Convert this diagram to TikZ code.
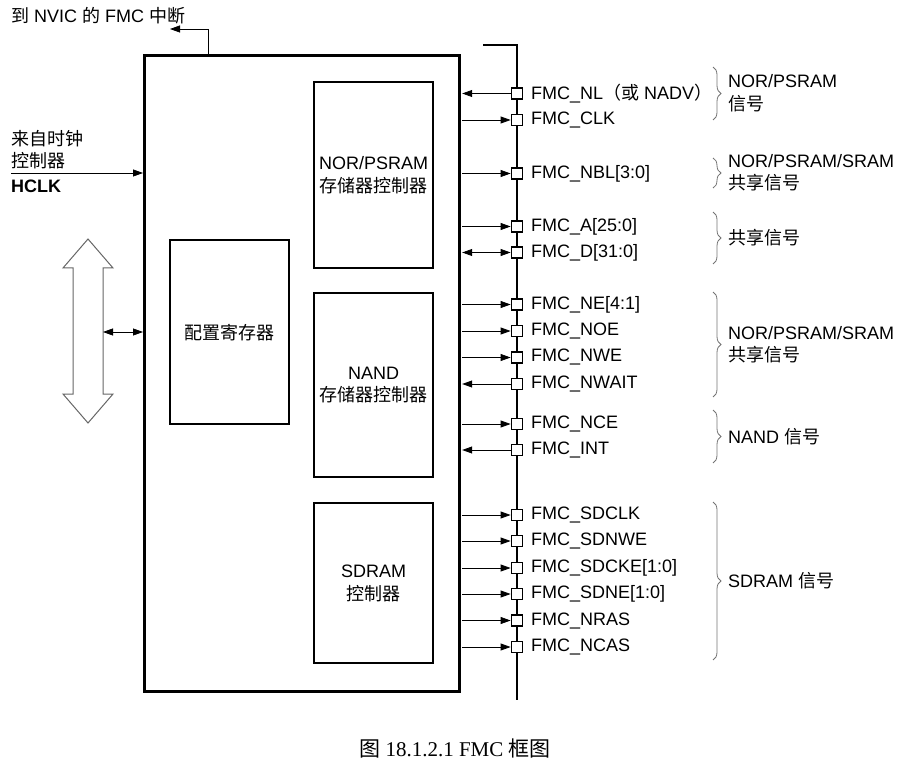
\documentclass[tikz,border=0pt]{standalone}
\usepackage{fontspec}
\setmainfont{Liberation Sans}
\newfontfamily\cjk{Noto Sans CJK SC}
\newfontfamily\capserif{Liberation Serif}
\usetikzlibrary{arrows.meta,decorations.pathreplacing,calc}
\begin{document}
\begin{tikzpicture}[x=1pt,y=-1pt,
  txt/.style={font=\fontsize{18}{22.5}\selectfont, inner sep=0pt},
  lbl/.style={txt, anchor=west},
  blk/.style={draw, line width=2.4pt, minimum width=119pt, inner sep=0pt, align=center, txt},
  pin/.style={draw, line width=1.8pt, fill=white, minimum size=11pt, inner sep=0pt},
  sig/.style={line width=0.8pt, -{Triangle[length=10pt,width=7pt]}},
  bsig/.style={line width=0.8pt, {Triangle[length=10pt,width=7pt]}-{Triangle[length=10pt,width=7pt]}},
  brc/.style={draw=black!55, line width=0.8pt, decorate, decoration={brace, amplitude=8pt}},
]
\useasboundingbox (0,0) rectangle (918,767);

% main FMC box
\node (fmc) [draw, line width=2.8pt, minimum width=315pt, minimum height=636pt, anchor=north west, inner sep=0pt] at (143,54) {};

% inner blocks
\node (nor)  [blk, minimum height=186pt, anchor=north west] at (313,81)  {NOR/PSRAM\\{\cjk 存储器控制器}};
\node (nand) [blk, minimum height=184pt, anchor=north west] at (313,292) {NAND\\{\cjk 存储器控制器}};
\node (sdr)  [blk, minimum height=160pt, anchor=north west] at (313,502) {SDRAM\\{\cjk 控制器}};
\node (cfg)  [blk, minimum height=184pt, anchor=north west] at (169,239) {\cjk 配置寄存器};

% top interrupt output
\node (nvic) [lbl] at (11,15.5) {{\cjk 到}~NVIC~{\cjk 的}~FMC~{\cjk 中断}};
\coordinate (irqA) at (208,54);
\coordinate (irqB) at (208,29);
\coordinate (irqC) at (170,29);
\draw[sig] (irqA) -- (irqB) -- (irqC);

% HCLK input
\node (clksrc) [lbl, align=left] at (11,149.5) {\cjk 来自时钟\\\cjk 控制器};
\node (hclk) [lbl, font=\fontsize{18}{22}\selectfont\bfseries] at (11,186.5) {HCLK};
\coordinate (hclkA) at (11,173);
\draw[sig] (hclkA) -- (hclkA -| fmc.west);

% system bus big double arrow
\draw[draw=black!60, line width=1pt, fill=white]
  (88,239) -- (113,268) -- (103,268) -- (103,394) -- (113,394) -- (88,423)
  -- (63,394) -- (73,394) -- (73,268) -- (63,268) -- cycle;
\coordinate (busport) at (103,332);
\draw[bsig] (busport) -- (busport -| fmc.west);

% external pin bus
\coordinate (busL) at (483,45);
\coordinate (busT) at (517,45);
\coordinate (busB) at (517,700);
\draw[line width=2.4pt] (busL) -- (busT) -- (busB);

% pins
\foreach \n/\y/\t/\d in {
  NL/93.5/{FMC\_NL{\cjk （或}~NADV{\cjk ）}}/l,
  CLK/120/{FMC\_CLK}/r,
  NBL/173.5/{FMC\_NBL[3:0]}/r,
  A/226.5/{FMC\_A[25:0]}/r,
  D/252.5/{FMC\_D[31:0]}/b,
  NE/304.5/{FMC\_NE[4:1]}/r,
  NOE/331/{FMC\_NOE}/r,
  NWE/357.5/{FMC\_NWE}/r,
  NWAIT/384/{FMC\_NWAIT}/l,
  NCE/424/{FMC\_NCE}/r,
  INT/450/{FMC\_INT}/l,
  SDCLK/515/{FMC\_SDCLK}/r,
  SDNWE/541/{FMC\_SDNWE}/r,
  SDCKE/568/{FMC\_SDCKE[1:0]}/r,
  SDNE/594/{FMC\_SDNE[1:0]}/r,
  NRAS/620.5/{FMC\_NRAS}/r,
  NCAS/647/{FMC\_NCAS}/r}
{
  \node (p\n) [pin] at (517,\y) {};
  \node (t\n) [lbl] at (531,\y) {\t};
  \if\d r
    \draw[sig, shorten <=1.4pt] (p\n.west -| fmc.east) -- (p\n.west);
  \fi
  \if\d l
    \draw[sig, shorten >=1.4pt] (p\n.west) -- (p\n.west -| fmc.east);
  \fi
  \if\d b
    \draw[bsig, shorten >=1.4pt] (p\n.west) -- (p\n.west -| fmc.east);
  \fi
}

% braces and group labels
\draw[brc] (713,67) -- (713,120);
\node (g1) [lbl, align=left] at (728,93) {NOR/PSRAM\\\cjk 信号};
\draw[brc] (713,158) -- (713,188);
\node (g2) [lbl, align=left] at (728,172.5) {NOR/PSRAM/SRAM\\\cjk 共享信号};
\draw[brc] (713,212) -- (713,264);
\node (g3) [lbl] at (728,238) {\cjk 共享信号};
\draw[brc] (713,292) -- (713,397);
\node (g4) [lbl, align=left] at (728,344.5) {NOR/PSRAM/SRAM\\\cjk 共享信号};
\draw[brc] (713,410) -- (713,463);
\node (g5) [lbl] at (728,436.5) {NAND~{\cjk 信号}};
\draw[brc] (713,502) -- (713,660);
\node (g6) [lbl] at (728,581) {SDRAM~{\cjk 信号}};

% caption
\node (cap) [font=\capserif\fontsize{21}{25}\selectfont, inner sep=0pt] at (455,748) {{\cjk 图}~18.1.2.1~FMC~{\cjk 框图}};
\end{tikzpicture}
\end{document}
